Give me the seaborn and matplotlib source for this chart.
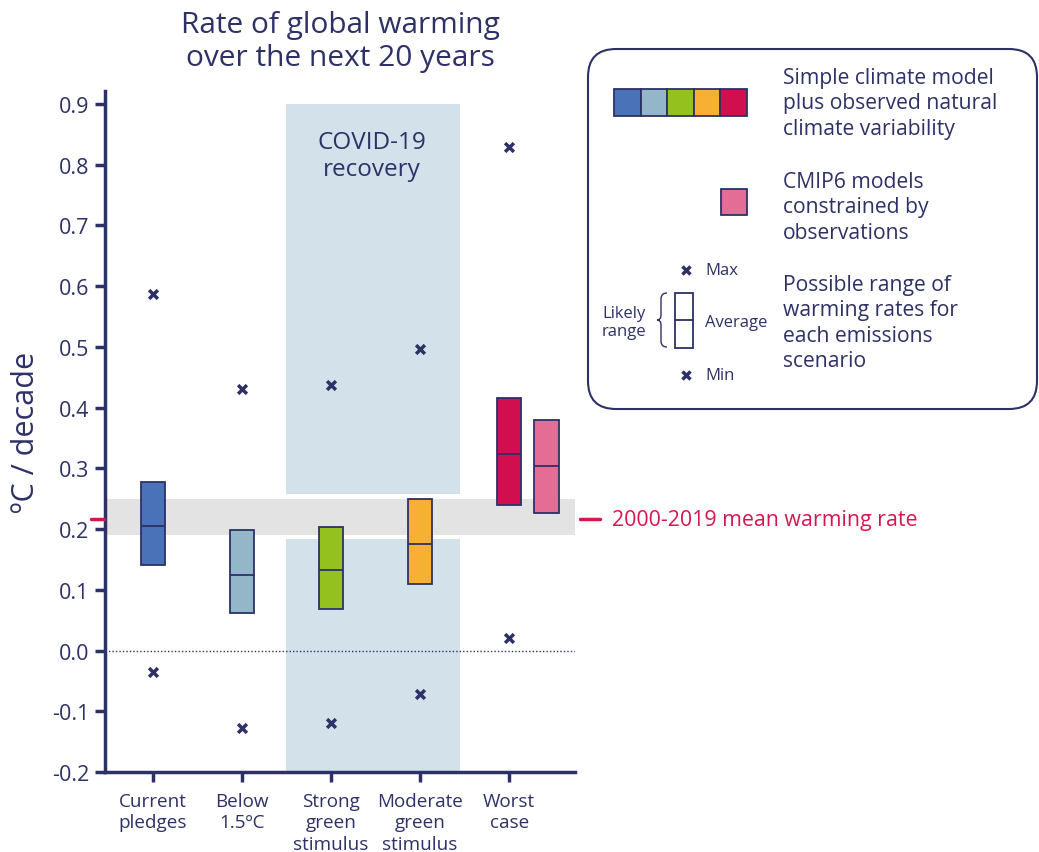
import matplotlib
matplotlib.use('Agg')
import matplotlib.pyplot as plt
import seaborn as sns
import pandas as pd
from matplotlib.patches import Rectangle, FancyBboxPatch, PathPatch
from matplotlib.path import Path

# data (ºC / decade)
scenarios = ['Current\npledges', 'Below\n1.5ºC', 'Strong\ngreen\nstimulus',
             'Moderate\ngreen\nstimulus', 'Worst\ncase']
likely_low = [0.140, 0.061, 0.069, 0.109, 0.240]
likely_high = [0.277, 0.198, 0.204, 0.249, 0.415]
average = [0.205, 0.125, 0.133, 0.175, 0.323]
max_vals = [0.587, 0.430, 0.437, 0.497, 0.829]
min_vals = [-0.036, -0.127, -0.120, -0.071, 0.020]
colors = ['#4a72b8', '#93b7c9', '#95c11f', '#f7b033', '#d10f4f']

cmip6_low, cmip6_high, cmip6_avg = 0.226, 0.380, 0.303

mean_rate = 0.216
mean_band = (0.190, 0.250)

navy = '#2d3166'
red = '#d6174f'
pink = '#e36d95'

sns.set_style('white')
plt.rcParams['font.family'] = ['Open Sans', 'DejaVu Sans']

fig = plt.figure(figsize=(10.39, 8.53), dpi=100)
ax = fig.add_axes([105/1039, 1 - 773/853, 470/1039, 681/853])

pos = list(range(len(scenarios)))

# COVID-19 recovery shading (split around the grey band)
ax.add_patch(Rectangle((1.49, 0.257), 1.96, 0.9 - 0.257, color='#d3e1ea', lw=0, zorder=0))
ax.add_patch(Rectangle((1.49, -0.2), 1.96, 0.183 + 0.2, color='#d3e1ea', lw=0, zorder=0))
ax.text(2.46, 0.815, 'COVID-19\nrecovery', ha='center', va='center',
        fontsize=17.5, color=navy, linespacing=1.15)

# mean warming rate band
ax.axhspan(mean_band[0], mean_band[1], color='#e3e3e3', lw=0, zorder=0.5)
ax.axhline(0, color=navy, lw=1, ls=(0, (1, 1.5)), zorder=1)

# likely ranges
w = 0.27
ax.bar(pos, [h - l for h, l in zip(likely_high, likely_low)], bottom=likely_low,
       width=w, color=colors, edgecolor=navy, linewidth=1.3, zorder=3)
ax.hlines(average, [p - w/2 for p in pos], [p + w/2 for p in pos], color=navy, lw=1.3, zorder=4)

# CMIP6 box next to worst case
ax.bar([4.42], [cmip6_high - cmip6_low], bottom=[cmip6_low], width=w,
       color=pink, edgecolor=navy, linewidth=1.3, zorder=3)
ax.hlines([cmip6_avg], 4.42 - w/2, 4.42 + w/2, color=navy, lw=1.3, zorder=4)

# min / max markers
df = pd.DataFrame({'x': pos * 2, 'y': max_vals + min_vals})
sns.scatterplot(data=df, x='x', y='y', marker='x', s=40, color=navy,
                linewidth=2.5, ax=ax, zorder=5)

# red mean rate marks
ax.plot([-0.70, -0.55], [mean_rate, mean_rate], color=red, lw=2.5, clip_on=False, zorder=6)
ax.plot([4.80, 5.02], [mean_rate, mean_rate], color=red, lw=2.5, clip_on=False)
ax.text(5.16, mean_rate, '2000-2019 mean warming rate', color=red, fontsize=15.4,
        va='center', ha='left', clip_on=False)

ax.set_xlim(-0.54, 4.74)
ax.set_ylim(-0.2, 0.921)
ax.set_yticks([-0.2, -0.1, 0.0, 0.1, 0.2, 0.3, 0.4, 0.5, 0.6, 0.7, 0.8, 0.9])
ax.set_yticklabels(['-0.2', '-0.1', '0.0', '0.1', '0.2', '0.3', '0.4', '0.5',
                    '0.6', '0.7', '0.8', '0.9'])
ax.set_xticks(pos)
ax.set_xticklabels(scenarios, linespacing=1.26)
ax.tick_params(axis='both', direction='out', length=7.2, width=2.5, color=navy,
               labelcolor=navy, labelsize=15.5, pad=4, bottom=True, left=True)
ax.tick_params(axis='x', labelsize=13.6, pad=7)
for s in ['top', 'right']:
    ax.spines[s].set_visible(False)
for s in ['left', 'bottom']:
    ax.spines[s].set_color(navy)
    ax.spines[s].set_linewidth(2.5)
ax.set_xlabel('')
ax.set_ylabel('ºC / decade', fontsize=22, color=navy, labelpad=8)
fig.text(340/1039, 1 - 11/853, 'Rate of global warming\nover the next 20 years',
         fontsize=21.5, color=navy, ha='center', va='top', linespacing=1.18)

# legend panel drawn in pixel coordinates
lg = fig.add_axes([0, 0, 1, 1])
lg.set_xlim(0, 1039)
lg.set_ylim(853, 0)
lg.axis('off')
lg.patch.set_alpha(0)
lg.add_patch(FancyBboxPatch((588, 50), 449, 360, boxstyle='round,pad=0,rounding_size=28',
                            fc='white', ec=navy, lw=1.5))
for i, c in enumerate(colors):
    lg.add_patch(Rectangle((614 + i * 26.6, 90), 26.6, 27, fc=c, ec=navy, lw=1.3))
lg.add_patch(Rectangle((721, 190), 26, 26, fc=pink, ec=navy, lw=1.3))
txt = dict(color=navy, fontsize=15.2, va='top', ha='left', linespacing=1.27)
lg.text(783, 68, 'Simple climate model\nplus observed natural\nclimate variability', **txt)
lg.text(783, 172, 'CMIP6 models\nconstrained by\nobservations', **txt)
lg.text(783, 275, 'Possible range of\nwarming rates for\neach emissions\nscenario', **txt)
lg.plot([686, 686], [271, 376], ls='none', marker='x', ms=6, mew=2.5, color=navy)
lg.add_patch(Rectangle((675, 294), 18, 55, fc='white', ec=navy, lw=1.3))
lg.plot([675, 693], [321, 321], color=navy, lw=1.3)
small = dict(color=navy, fontsize=12, va='center', ha='left')
lg.text(705, 271, 'Max', **small)
lg.text(705, 323, 'Average', **small)
lg.text(705, 376, 'Min', **small)
lg.text(602, 323, 'Likely\nrange', linespacing=1.15, **small)
brace = Path([(667, 294), (661, 294), (661, 300), (661, 316), (661, 321), (657, 321),
              (661, 321), (661, 326), (661, 342), (661, 348), (667, 348)],
             [Path.MOVETO, Path.CURVE3, Path.CURVE3, Path.LINETO, Path.CURVE3, Path.CURVE3,
              Path.CURVE3, Path.CURVE3, Path.LINETO, Path.CURVE3, Path.CURVE3])
lg.add_patch(PathPatch(brace, fc='none', ec=navy, lw=1))

fig.savefig('out.png', dpi=100)
